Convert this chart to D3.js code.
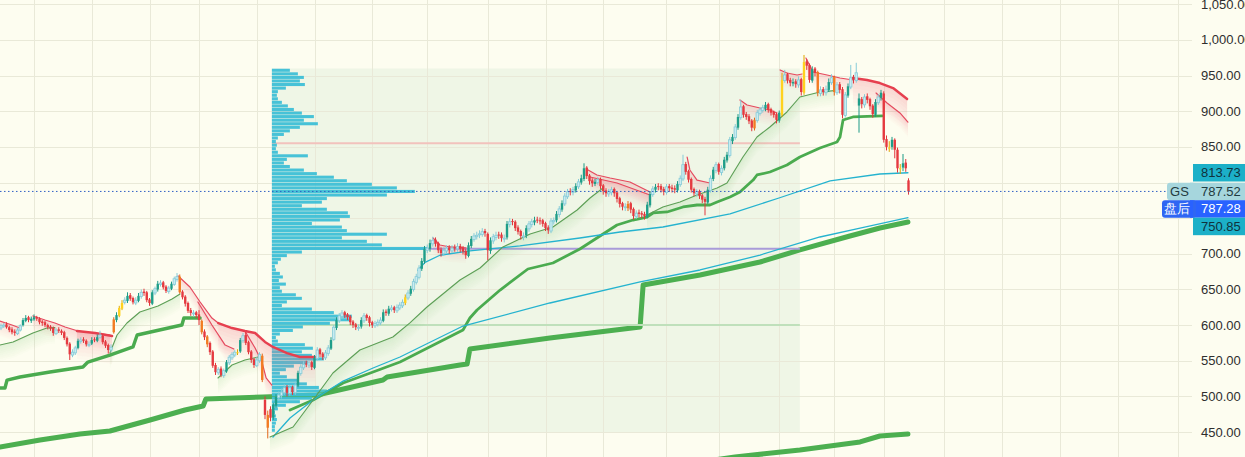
<!DOCTYPE html>
<html><head><meta charset="utf-8">
<script src="https://cdn.jsdelivr.net/npm/d3@7"></script>
<style>
html,body{margin:0;padding:0;background:#fdfdf0;}
svg{display:block;font-family:"Liberation Sans",Arial,sans-serif;}
</style></head><body>
<svg id="c" width="1245" height="457"></svg>
<script>
// ---------------- DATA ----------------
const opens=[596,599,601,597,594,591,588,593,600,606,611,606,608,611,609,605,604,600,598,596,588,594,592,590,582,574,558,561,568,577,580,578,572,574,580,578,583,585,577,572,565,590,607,613,623,632,634,642,638,631,634,640,647,646,636,630,645,650,657,660,654,647,651,657,664,668,647,640,631,621,616,618,615,606,591,584,575,563,544,533,539,529,535,547,554,558,561,563,578,586,576,563,552,543,550,557,495,474,482,470,487,498,501,505,513,504,513,505,515,532,540,546,544,548,540,553,566,560,554,560,567,580,596,606,612,618,615,612,605,601,596,598,606,614,611,604,599,601,603,606,619,616,622,625,620,624,627,631,638,644,650,660,667,679,689,705,707,714,720,715,706,700,704,709,704,709,707,711,708,704,697,711,720,724,727,727,732,728,704,718,723,727,727,721,723,741,746,745,737,732,724,726,735,741,744,748,747,747,743,737,732,745,747,755,762,770,780,788,786,789,794,800,805,821,810,803,798,800,805,796,789,784,786,791,786,778,771,765,764,771,763,752,758,757,756,752,768,783,790,795,795,791,786,795,793,792,789,797,805,826,816,805,791,784,788,782,777,772,789,805,817,826,814,820,831,838,858,863,877,891,907,896,893,887,876,887,897,901,904,910,903,899,896,887,895,943,952,944,939,942,937,945,926,970,965,943,960,955,925,931,926,930,940,948,926,938,931,894,922,934,948,943,908,917,909,921,917,908,895,912,919,925,861,848,850,860,846,819,821,828,803];
const highs=[602,603,604,599,597,594,596,601,610,614,613,612,615,613,611,607,606,602,600,598,596,597,594,592,584,576,566,571,581,583,583,580,577,583,583,587,592,587,579,574,573,611,618,627,635,639,646,645,640,639,645,650,651,648,638,649,654,662,663,662,656,655,661,668,673,671,649,642,633,624,621,620,621,608,594,586,577,565,547,541,542,539,551,558,562,565,566,582,589,590,578,565,554,555,562,560,500,480,486,491,503,507,511,517,516,516,515,521,536,545,549,550,551,550,558,569,568,562,565,572,583,600,611,617,621,620,617,614,607,603,601,611,617,616,613,606,606,608,611,622,622,627,628,627,629,632,636,643,649,655,665,672,684,694,711,713,720,724,723,717,709,709,712,712,712,713,715,714,711,707,716,725,729,731,733,736,735,730,723,728,731,731,730,727,746,750,749,747,740,734,730,740,746,749,752,752,751,749,745,740,750,751,760,767,775,785,791,792,794,799,805,811,827,823,812,806,805,808,807,798,792,791,794,793,788,780,773,771,774,773,765,761,762,760,759,773,788,795,798,799,798,794,798,798,797,796,802,810,839,829,818,807,793,791,790,784,780,794,810,822,829,828,824,836,843,864,868,882,896,916,909,899,896,889,891,902,906,909,913,912,905,901,898,901,954,958,954,947,946,945,949,947,979,973,967,963,962,957,935,934,936,946,952,950,941,941,934,927,939,965,951,968,925,920,924,925,919,910,917,924,930,928,866,858,864,862,849,826,840,833,806];
const lows=[593,596,595,590,587,585,586,591,598,604,604,603,606,606,601,599,597,594,592,585,586,589,586,579,570,551,555,558,566,574,575,570,569,572,576,576,581,573,568,560,562,588,604,611,621,629,631,634,629,628,632,637,641,632,627,628,642,647,654,650,645,644,649,655,661,644,636,626,617,613,612,610,600,587,579,569,558,540,530,530,527,526,533,544,551,555,558,561,575,572,559,547,540,541,547,520,468,441,465,467,484,494,497,502,500,501,502,502,513,529,537,541,540,537,538,550,555,551,551,557,565,578,593,603,609,610,607,600,596,593,592,595,603,606,598,596,596,598,600,604,613,613,619,617,617,621,624,628,635,641,647,657,664,676,686,701,703,710,710,701,696,697,700,700,701,703,703,702,699,693,695,708,717,720,722,724,724,691,700,714,719,721,717,716,720,737,740,732,727,720,719,722,731,737,740,743,741,738,732,728,729,741,744,751,759,767,777,782,782,786,791,797,802,805,797,794,795,797,791,783,780,780,782,780,772,765,761,760,760,757,748,749,751,750,748,750,765,780,786,789,786,782,783,787,786,785,786,794,802,811,800,786,781,780,777,771,754,770,786,802,813,811,810,817,828,835,854,860,874,888,891,888,882,872,873,884,894,898,900,898,894,891,883,884,892,940,939,935,935,933,933,922,923,958,940,940,949,921,921,922,922,927,937,922,923,925,890,891,919,931,939,940,870,904,905,911,902,891,892,909,915,856,845,843,846,834,814,812,816,815,783];
const closes=[599,600,597,593,590,589,593,599,607,610,607,609,611,609,604,603,600,597,595,589,593,592,589,582,573,559,562,568,578,579,578,573,573,579,579,583,586,576,571,565,569,608,614,624,631,635,641,637,632,635,641,646,645,635,631,646,651,658,659,653,648,652,658,665,668,646,639,630,620,617,617,614,607,590,583,573,562,543,534,538,530,536,548,555,559,562,562,579,585,575,562,551,544,551,559,523,474,456,470,488,499,502,506,512,505,512,506,516,533,541,545,545,547,541,554,565,559,555,561,568,579,597,607,613,617,614,611,604,600,597,597,607,613,610,603,600,602,604,607,618,617,623,624,621,625,628,632,639,645,651,661,668,680,690,707,708,715,719,714,705,701,705,708,705,708,708,710,707,703,698,712,721,725,726,728,731,729,705,719,724,726,726,722,722,742,745,745,736,731,725,725,736,742,745,747,747,746,742,736,733,746,747,756,763,771,781,787,787,790,795,801,806,820,809,802,799,801,804,795,788,785,787,790,785,777,770,766,766,770,762,753,757,756,755,753,769,784,791,794,794,790,787,794,792,791,790,798,806,825,815,804,790,785,787,781,776,773,790,806,818,825,815,820,832,839,860,864,878,892,906,895,892,886,877,888,898,902,905,909,902,898,895,888,898,944,951,943,940,941,938,944,927,969,964,944,959,954,926,930,927,931,941,947,927,937,930,895,923,935,947,944,954,918,910,920,916,907,896,913,920,926,860,850,849,860,846,820,820,827,820,787.52];
const tealBars=[8,9,11,12,28,33,35,42,46,50,55,57,62,82,87,99,100,108,114,120,122,131,139,141,149,153,154,156,170,171,178,184,191,194,202,204,209,211,212,216,235,236,238,246,257,259,263,264,266,268,278,283,288,295,301,308,312,318,320,324,328];
const yellowBars=[43,44,86,147,284,292,323,327];
const orangeBars=[41,65,73,75,95,97,228,274,297,303];

const yTicks=[450,500,550,600,650,700,750,800,850,900,950,1000,1050];
const monthStarts=[12,33,54,72,93,114,135,155,177,198,219,242,261,283,303,321,343,364,385,406,428];

// volume profile (rows of 5 from 450 upward), anchored range
const profileFrom=98.5, profileTo=290.5, profileLow=450, profileStep=5;
const profileVol=[3,3,4,5,4,3,6,14,28,40,51,55,47,35,26,15,8,14,22,36,52,40,30,41,33,6,4,8,21,31,58,78,80,62,40,10,15,30,24,10,8,14,7,11,8,4,3,6,9,15,30,155,110,95,70,115,75,70,40,68,78,76,55,30,50,55,115,143,125,100,75,62,45,32,18,12,15,36,6,4,5,4,6,12,18,28,46,32,42,30,22,16,10,6,5,6,14,33,28,32,26,18];
const levelHigh=855, levelMid=707, levelLow=600;

// trend lines: [barIndex, price]
const lineLong=[[-0.4,429],[14.2,438.8],[28.7,447.2],[39.6,451.4],[54.2,466.8],[66.9,480.9],[73.5,486.5],[74.5,496.3],[95.3,499.1],[114.9,501.9],[138.9,523],[140.4,527.2],[166.9,544],[169.5,545.4],[170.5,566.4],[199.6,581.9],[232.4,597.3],[233.5,656.2],[254.2,670.3],[276,688.5],[290.5,705.4],[308.7,725],[319.6,736.2],[329.8,744.6]];
const lineBottom=[[254,407.9],[266.9,414.9],[290.5,424.8],[312.4,436],[319.6,444.4],[329.8,447.2]];
const midA=[[-0.4,511.7],[1.45,511.7],[2.2,522.9],[6.9,527.2],[17.8,534.2],[29.8,541.2],[31.6,548.2],[39.6,558],[48,569.3],[49.5,586.1],[62.5,597.3],[65.8,600.1],[66.5,609.9],[72.4,609.9]];
const midB=[[105.1,480.9],[113.5,494.9],[124.4,518.7],[135.3,534.2],[145.1,548.2],[168,593.1],[170.5,609.9],[173.1,621.2],[181.5,649.2],[191.6,678.7],[200.7,687.1],[210.5,706.8],[224,740.4],[229.8,747.4],[234.9,751.6],[237.1,757.3],[242.2,758.7],[248,765.7],[253.1,768.5],[257.8,768.5],[260.4,772.7],[265.1,779.7],[268.7,786.7],[273.5,803.5],[274.9,810.6],[279.6,814.8],[285.8,824.6],[290.5,835.8],[297.8,848.5],[304,856.9],[305.1,863.9],[306.2,887.7],[309.8,892],[320.4,893.4]];
const cyanA=[[151.6,677],[154.2,688],[159.6,698],[170.5,704],[188.7,711],[210.5,722.2],[225.1,730.6],[240.7,737.6],[265.1,755.9],[282.9,778.3],[301.5,802.2],[319.6,812],[329.8,813.73]];
const cyanB=[[98.9,443],[105.1,469.6],[113.5,494.9],[124.4,521.5],[135.3,539.8],[145.1,555.2],[168,598.7],[199.6,631],[232.4,660.5],[254.2,677.3],[276,698.3],[297.8,723.6],[312.4,736.2],[329.8,750.85]];
const g1=[[-0.4,572],[4.4,576.3],[11.6,588.9],[16.7,595.9],[19.6,596.5]];
const g2=[[39.6,560.8],[42.2,586.1],[45.8,602.9],[50.5,618.4],[57.1,626.8],[62.2,636.6],[65.1,643.6]];
const g3=[[78.9,525.8],[84,544],[88.7,551],[93.5,555.2]];
const g4=[[97.8,443],[106.2,457],[113.5,494.9],[120.7,532.8],[130.5,565],[142.5,583.3],[148.7,603],[154.9,625.4],[166.9,663.3],[174.2,680.1],[182.5,709.6],[192.4,727.8],[200.7,737.6],[209.5,761.5],[214.2,778.3],[218.9,792.3]];
const g5=[[234.9,754.4],[240.7,765.7],[246.9,772.7],[253.1,782.5],[260.4,792.3],[264,799.4],[269.8,835.8],[274.9,863.9],[279.6,877.9],[285.8,899],[290.5,920],[297.8,927],[303,929]];
const r0=[[-0.4,605.7],[4,600.1],[6.9,596]];
const r1=[[11.6,612.8],[16,607.1],[19.6,602.9],[23.3,597.3],[28,591.7],[34.2,588.9],[39.6,586.1]];
const r1t=[[27.6,591.7],[34.2,588.9],[40.4,584.7]];
const r2=[[64.4,668.9],[68.7,653.4],[72.4,632.4],[76.7,609.9],[79,602.9]];
const r2t=[[79,602.9],[84,595.9],[88.7,591.7],[92.4,588.9],[96,576.3],[98.9,569.3],[104,560.8],[108.7,555.2],[114.2,555.2]];
const r2b=[[71.6,632.4],[76.7,600.1],[81.5,572],[84.7,566.4]];
const r2c=[[88.7,591.7],[92.4,567.8],[94.9,548.2],[96.4,525.8],[98.5,515.9]];
const r3=[[157.1,722.2],[159.6,712.4],[163.3,709.6],[169.1,708.2]];
const r4=[[213.5,817.6],[216.7,810.6],[221.5,806.4],[228.7,800.8],[236,786.7]];
const r4b=[[214.2,807.8],[224,799.4],[236,782.5]];
const r5=[[249.5,835.8],[250.5,817.6],[253.1,803.5],[257.8,799.4]];
const r6=[[268.7,915.8],[271.3,908.8],[276,904.6],[279.6,901.8],[282.2,897.6]];
const r7=[[283.3,957.9],[285.8,953.7],[289.5,950.9],[291.3,952.3]];
const r8=[[292.7,974.7],[295.3,955.1],[300.4,950.9],[305.1,946.7],[309.8,943.9]];
const r9t=[[309.8,946.7],[314.9,943.9],[319.6,939.6],[324.4,932.6],[329.5,917.2]];
const r9b=[[318.2,925.6],[322.2,911.6],[326.9,897.6],[329.8,884.9]];

const lastPrice=787.52, afterHours=787.28, avgUpper=813.73, avgLower=750.85;
const symbol="GS", afterLabel="盘后";

// ---------------- RENDER ----------------
const W=1245,H=457,plotR=1192;
const N=closes.length;
const x=d3.scaleLinear().domain([0,330]).range([1,908.5]);
const y=d3.scaleLinear().domain([450,1050]).range([432,4.35]);
const svg=d3.select('#c');
svg.append('rect').attr('width',W).attr('height',H).attr('fill','#fdfdf0');
const defs=svg.append('defs');
defs.append('clipPath').attr('id','clip').append('rect').attr('x',0).attr('y',0).attr('width',plotR).attr('height',H);
const g=svg.append('g').attr('clip-path','url(#clip)');

// profile background rect
const pTop=profileLow+profileStep*profileVol.length;
g.append('rect').attr('x',x(profileFrom)).attr('y',y(pTop))
 .attr('width',x(profileTo)-x(profileFrom)).attr('height',y(profileLow)-y(pTop)).attr('fill','#eff6e6');

// grid
g.selectAll('.hg').data(yTicks).join('line').attr('x1',0).attr('x2',plotR)
 .attr('y1',d=>Math.round(y(d))+0.5).attr('y2',d=>Math.round(y(d))+0.5)
 .attr('stroke','#e9e9d8').attr('stroke-width',1);
g.selectAll('.vg').data(monthStarts).join('line')
 .attr('x1',d=>Math.round(x(d))+0.5).attr('x2',d=>Math.round(x(d))+0.5).attr('y1',0).attr('y2',H)
 .attr('stroke','#e9e9d8').attr('stroke-width',1);

const line=d3.line().x(d=>x(d[0])).y(d=>y(d[1]));
function drawLine(data,color,w,op){
  g.append('path').datum(data).attr('d',line).attr('fill','none')
   .attr('stroke',color).attr('stroke-width',w).attr('stroke-linejoin','round').attr('stroke-linecap','round')
   .attr('opacity',op||1);
}
function band(data,color,depth,maxOp){
  const steps=8;
  for(let k=0;k<steps;k++){
    const a=d3.area().x(d=>x(d[0])).y0(d=>y(d[1])+depth*k/steps).y1(d=>y(d[1])+depth*(k+1)/steps);
    g.append('path').datum(data).attr('d',a).attr('fill',color).attr('opacity',maxOp*(1-k/steps));
  }
}

// long-term thick lines (under profile)
drawLine(lineLong,'#4caf50',5);
drawLine(lineBottom,'#4caf50',5);

// level lines
const levels=[{v:levelHigh,c:'#f2c2bd'},{v:levelMid,c:'#a99bd9'},{v:levelLow,c:'#bfe0bb'}];
g.selectAll('.lv').data(levels).join('line').attr('x1',x(profileFrom)).attr('x2',x(profileTo))
 .attr('y1',d=>y(d.v)).attr('y2',d=>y(d.v)).attr('stroke',d=>d.c).attr('stroke-width',2);

// volume profile
const volX=d3.scaleLinear().domain([0,160]).range([0,160]);
g.selectAll('.pv').data(profileVol).join('rect')
 .attr('x',x(profileFrom))
 .attr('y',(d,k)=>y(profileLow+profileStep*(k+1))+0.25)
 .attr('width',d=>volX(d))
 .attr('height',(d,k)=>y(profileLow+profileStep*k)-y(profileLow+profileStep*(k+1))-0.5)
 .attr('fill','#3dbfd6').attr('opacity',0.95);

// shaded bands
[r1t,r2t,r9t].forEach(d=>band(d,'#f0697b',28,0.26));
[r0,r1,r2,r2b,r2c,r3,r4,r4b,r5,r6,r7,r8,r9b].forEach(d=>band(d,'#f0697b',15,0.22));
[g1,g2,g3,g4,g5].forEach(d=>band(d,'#8fcf86',16,0.22));

// medium trailing lines
drawLine(midA,'#4aab4f',3.4);
drawLine(midB,'#4aab4f',2.8);
// anchored averages
drawLine(cyanB,'#25b3cf',1.3);
drawLine(cyanA,'#25b3cf',1.3);
// thin green / red trailing lines
[g1,g2,g3,g4,g5].forEach(d=>drawLine(d,'#5c9e55',1.1));
[r0,r1,r2,r2b,r2c,r3,r4,r4b,r5,r6,r7,r8,r9b].forEach(d=>drawLine(d,'#e54a5e',1.2));
[r1t,r2t,r9t].forEach(d=>drawLine(d,'#e6404f',2.4));

// candles
const idx=d3.range(N);
function kind(i){
  if(yellowBars.includes(i)) return 'y';
  if(orangeBars.includes(i)) return 'o';
  if(closes[i]<opens[i]) return 'r';
  return tealBars.includes(i)?'t':'h';
}
const wickC={y:'#e0a800',o:'#e0661a',r:'#e0363c',t:'#1c9a86',h:'#86cbd8'};
const bodyC={y:'#ffd21f',o:'#f27b22',r:'#e53a40',t:'#1f9e89',h:'#c9ecf1'};
const cg=g.append('g');
cg.selectAll('.wk').data(idx).join('line')
 .attr('x1',i=>x(i)).attr('x2',i=>x(i)).attr('y1',i=>y(highs[i])).attr('y2',i=>y(lows[i]))
 .attr('stroke',i=>wickC[kind(i)]).attr('stroke-width',1);
cg.selectAll('.bd').data(idx).join('rect')
 .attr('x',i=>x(i)-1.2).attr('width',2.4)
 .attr('y',i=>y(Math.max(opens[i],closes[i])))
 .attr('height',i=>Math.max(1,Math.abs(y(opens[i])-y(closes[i]))))
 .attr('fill',i=>bodyC[kind(i)])
 .attr('stroke',i=>kind(i)==='h'?'#86cbd8':'none').attr('stroke-width',0.8);

// last price dotted line
svg.append('line').attr('x1',0).attr('x2',1166).attr('y1',y(lastPrice)).attr('y2',y(lastPrice))
 .attr('stroke','#2f5fc4').attr('stroke-width',1).attr('stroke-dasharray','1.5,2.5');

// price tags with collision layout
const fmt=d3.format(',.2f');
const tags=[
 {v:avgUpper,bg:'#1cb0c8',fg:'#10323c'},
 {v:lastPrice,bg:'#a6d6dd',fg:'#1f3a40',pre:symbol,preBg:'#a6d6dd',preFg:'#1f3a40'},
 {v:afterHours,bg:'#2962ff',fg:'#ffffff',pre:afterLabel,preBg:'#2f66f3',preFg:'#ffffff'},
 {v:avgLower,bg:'#1cb0c8',fg:'#10323c'}
].sort((a,b)=>b.v-a.v);
const th=17.5;let prev=-1e9;
tags.forEach(t=>{t.cy=Math.max(y(t.v),prev+th);prev=t.cy;});

// axis labels (those hidden behind price tags are skipped)
const visibleTicks=yTicks.filter(v=>tags.every(t=>Math.abs(y(v)-t.cy)>th));
svg.selectAll('.yl').data(visibleTicks).join('text').attr('x',1201).attr('y',d=>y(d)+4.5)
 .attr('font-size',13).attr('fill','#2e2e2e').text(d=>fmt(d));

const tg=svg.append('g');
tags.forEach(t=>{
  tg.append('rect').attr('x',1193).attr('y',t.cy-th/2).attr('width',52).attr('height',th).attr('fill',t.bg);
  tg.append('text').attr('x',1201).attr('y',t.cy+4.5).attr('font-size',13).attr('fill',t.fg).text(fmt(t.v));
  if(t.pre){
    const w=t.pre===symbol?25:30;
    tg.append('rect').attr('x',1192-w).attr('y',t.cy-th/2).attr('width',w+4).attr('height',th).attr('rx',3).attr('fill',t.preBg);
    tg.append('rect').attr('x',1190).attr('y',t.cy-th/2).attr('width',3).attr('height',th).attr('fill',t.bg);
    tg.append('text').attr('x',1192-w/2).attr('y',t.cy+4.5).attr('text-anchor','middle').attr('font-size',13).attr('fill',t.preFg).text(t.pre);
  }
});
</script>
</body></html>
